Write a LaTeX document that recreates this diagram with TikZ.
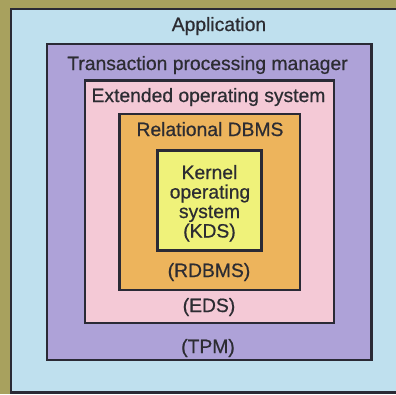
\documentclass[tikz,border=0pt]{standalone}
\usepackage{fontspec}
\setmainfont{Liberation Sans}[FakeBold=0.6]
\newfontfamily\lblfont{Liberation Sans}[FakeBold=0.6]
\definecolor{olivebg}{HTML}{A8A15E}
\definecolor{appblue}{HTML}{BFE0EE}
\definecolor{tpmpurple}{HTML}{AEA2D8}
\definecolor{edspink}{HTML}{F4C9D6}
\definecolor{rdborange}{HTML}{EDB45C}
\definecolor{kdsyellow}{HTML}{EFF27A}
\definecolor{edge}{HTML}{2A2A35}
\definecolor{txt}{HTML}{2C2C32}
\begin{document}
\begin{tikzpicture}[x=1pt,y=-1pt,
  layer/.style={draw=edge,line width=2.6pt,line join=miter},
  lbl/.style={anchor=base,inner sep=0pt,text=txt,font=\lblfont\fontsize{19.3}{20}\selectfont}]
\useasboundingbox (0,0) rectangle (396,394);
\clip (0,0) rectangle (396,394);
\fill[olivebg] (0,0) rectangle (396,394);
\filldraw[layer,fill=appblue] (11,9) rectangle (402,392.5);
\filldraw[layer,fill=tpmpurple] (47,44) rectangle (371.5,360);
\filldraw[layer,fill=edspink] (85,80.5) rectangle (334,323);
\filldraw[layer,fill=rdborange] (119.5,114) rectangle (300,290);
\filldraw[layer,fill=kdsyellow] (157.5,150.5) rectangle (261.5,250.5);
\node[lbl] (app) at (219,31) {Application};
\node[lbl] (tpm) at (207.5,70) {Transaction processing manager};
\node[lbl] (eds) at (208.5,102) {Extended operating system};
\node[lbl] (rdb) at (210,136) {Relational DBMS};
\node[lbl] (k1) at (209.5,179) {Kernel};
\node[lbl] (k2) at (210,198.5) {operating};
\node[lbl] (k3) at (209.5,218) {system};
\node[lbl] (k4) at (209.5,237.5) {(KDS)};
\node[lbl] (rdbab) at (209,277) {(RDBMS)};
\node[lbl] (edsab) at (209,312) {(EDS)};
\node[lbl] (tpmab) at (208,353) {(TPM)};
\end{tikzpicture}
\end{document}
